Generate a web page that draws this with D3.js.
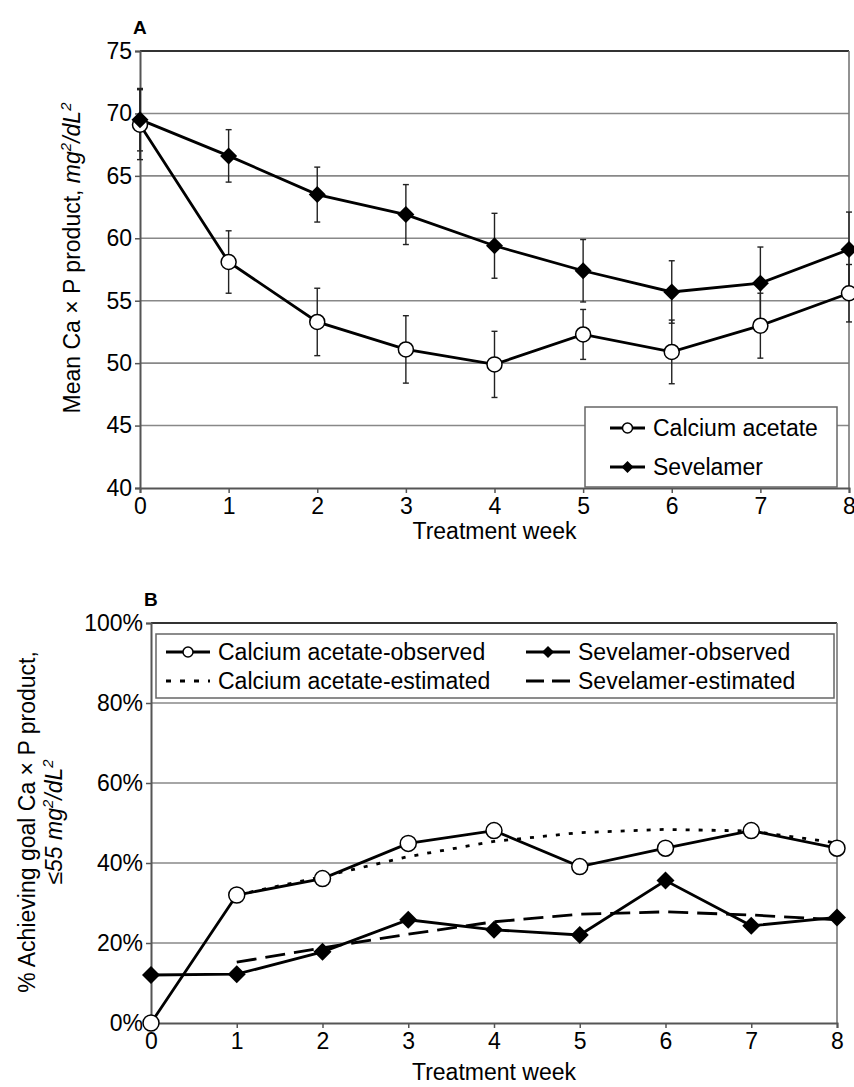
<!DOCTYPE html>
<html>
<head>
<meta charset="utf-8">
<script src="https://cdn.jsdelivr.net/npm/d3@7"></script>
<style>
  body { margin: 0; background: #fff; }
  svg text { font-family: "Liberation Sans", Arial, sans-serif; fill: #000; }
</style>
</head>
<body>
<script>
// weeks on the x axis
var weeks = [0, 1, 2, 3, 4, 5, 6, 7, 8];

// panel A: mean Ca x P product and error half-widths
var calciumMean = [69.1, 58.1, 53.3, 51.1, 49.9, 52.3, 50.9, 53.0, 55.6];
var calciumErr  = [2.8, 2.5, 2.7, 2.7, 2.65, 2.0, 2.55, 2.6, 2.3];
var sevelamerMean = [69.5, 66.6, 63.5, 61.9, 59.4, 57.4, 55.7, 56.4, 59.1];
var sevelamerErr  = [2.5, 2.1, 2.2, 2.4, 2.6, 2.5, 2.5, 2.9, 3.0];
var ticksA = [40, 45, 50, 55, 60, 65, 70, 75];

// panel B: % achieving goal
var calciumObs   = [0, 32.0, 36.1, 44.9, 48.1, 39.1, 43.7, 48.1, 43.7];
var sevelamerObs = [12.0, 12.2, 17.8, 25.8, 23.3, 22.0, 35.6, 24.3, 26.4];
var estWeeks     = [1, 2, 3, 4, 5, 6, 7, 8];
var calciumEst   = [32.0, 36.6, 41.6, 45.4, 47.6, 48.4, 48.0, 45.0];
var sevelamerEst = [15.2, 18.8, 22.2, 25.3, 27.2, 27.8, 27.0, 25.8];
var ticksB = [0, 20, 40, 60, 80, 100];

var width = 854, height = 1087;

var svg = d3.select("body").append("svg")
    .attr("width", width)
    .attr("height", height);

var fontSize = 23;

function diamond(g, x, y, r){
    g.append("path")
        .attr("d", "M" + x + "," + (y - r) + "L" + (x + r) + "," + y + "L" + x + "," + (y + r) + "L" + (x - r) + "," + y + "Z")
        .attr("fill", "#000");
}
function circle(g, x, y, r){
    g.append("circle")
        .attr("cx", x).attr("cy", y).attr("r", r)
        .attr("fill", "#fff")
        .attr("stroke", "#000")
        .attr("stroke-width", 1.5);
}
// italic "mg2/dL2" with raised 2s
function units(t){
    t.append("tspan").style("font-style", "italic").text("mg");
    t.append("tspan").style("font-style", "italic").style("font-size", "15px").attr("dy", -9).text("2");
    t.append("tspan").style("font-style", "italic").attr("dy", 9).text("/dL");
    t.append("tspan").style("font-style", "italic").style("font-size", "15px").attr("dy", -9).text("2");
}

// draws frame, grid and axes for one panel
function frame(x, y, ticks, fmt, label, titleGap){
    var g = svg.append("g");
    // horizontal grid
    g.selectAll(".grid").data(ticks.slice(1))
        .enter().append("line")
        .attr("x1", x.range()[0]).attr("x2", x.range()[1])
        .attr("y1", function(d){ return y(d); })
        .attr("y2", function(d){ return y(d); })
        .attr("stroke", function(d, i){ return i == ticks.length - 2 ? "#333" : "#888"; })
        .attr("stroke-width", function(d, i){ return i == ticks.length - 2 ? 2 : 1.6; });
    // right border
    g.append("line")
        .attr("x1", x.range()[1]).attr("x2", x.range()[1])
        .attr("y1", y.range()[0]).attr("y2", y.range()[1])
        .attr("stroke", "#777").attr("stroke-width", 1.6);

    var yAxis = d3.axisLeft(y).tickValues(ticks).tickFormat(fmt).tickSize(5).tickPadding(3);
    var ya = g.append("g").attr("transform", "translate(" + x.range()[0] + ",0)").call(yAxis);
    var xAxis = d3.axisBottom(x).tickValues(weeks).tickSize(5).tickPadding(5);
    var xa = g.append("g").attr("transform", "translate(0," + y.range()[0] + ")").call(xAxis);
    [ya, xa].forEach(function(a){
        a.select(".domain").attr("stroke", "#555").attr("stroke-width", 2);
        a.selectAll(".tick line").attr("stroke", "#555").attr("stroke-width", 1.5);
        a.selectAll(".tick text")
            .style("font-family", "Liberation Sans, Arial, sans-serif")
            .style("font-size", fontSize + "px")
            .attr("fill", "#000");
    });
    // panel letter
    g.append("text")
        .attr("x", x.range()[0] - 7).attr("y", y.range()[1] - 17)
        .style("font-size", "19px").style("font-weight", "bold")
        .text(label);
    // x title
    g.append("text")
        .attr("x", (x.range()[0] + x.range()[1]) / 2)
        .attr("y", y.range()[0] + titleGap)
        .attr("text-anchor", "middle")
        .style("font-size", fontSize + "px")
        .text("Treatment week");
    return g;
}

// ---------------- panel A ----------------
var xA = d3.scaleLinear().domain([0, 8]).range([140, 849]);
var yA = d3.scaleLinear().domain([40, 75]).range([488, 51]);
frame(xA, yA, ticksA, d3.format("d"), "A", 51);

var titleA = svg.append("text")
    .attr("transform", "translate(80,258) rotate(-90)")
    .attr("text-anchor", "middle")
    .style("font-size", fontSize + "px");
titleA.append("tspan").text("Mean Ca \u00d7 P product, ");
units(titleA);

var lineA = d3.line().x(function(d){ return xA(d[0]); }).y(function(d){ return yA(d[1]); });
var gA = svg.append("g");

function errorBars(g, means, errs){
    weeks.forEach(function(w, i){
        var x = xA(w), y1 = yA(means[i] + errs[i]), y2 = yA(means[i] - errs[i]);
        g.append("line").attr("x1", x).attr("x2", x).attr("y1", y1).attr("y2", y2)
            .attr("stroke", "#222").attr("stroke-width", 1.4);
        [y1, y2].forEach(function(yy){
            g.append("line").attr("x1", x - 3).attr("x2", x + 3).attr("y1", yy).attr("y2", yy)
                .attr("stroke", "#222").attr("stroke-width", 1.4);
        });
    });
}
errorBars(gA, calciumMean, calciumErr);
errorBars(gA, sevelamerMean, sevelamerErr);

gA.append("path").datum(d3.zip(weeks, calciumMean)).attr("d", lineA)
    .attr("fill", "none").attr("stroke", "#000").attr("stroke-width", 2.8);
gA.append("path").datum(d3.zip(weeks, sevelamerMean)).attr("d", lineA)
    .attr("fill", "none").attr("stroke", "#000").attr("stroke-width", 2.8);
weeks.forEach(function(w, i){ circle(gA, xA(w), yA(calciumMean[i]), 7.5); });
weeks.forEach(function(w, i){ diamond(gA, xA(w), yA(sevelamerMean[i]), 8.5); });

// legend A
var legA = svg.append("g");
legA.append("rect").attr("x", 585).attr("y", 407).attr("width", 252).attr("height", 80)
    .attr("fill", "#fff").attr("stroke", "#666").attr("stroke-width", 1.5);
[["Calcium acetate", "c"], ["Sevelamer", "s"]].forEach(function(e, i){
    var yy = 428 + i * 39;
    legA.append("line").attr("x1", 610).attr("x2", 645).attr("y1", yy).attr("y2", yy)
        .attr("stroke", "#000").attr("stroke-width", 2.8);
    if (e[1] == "c") circle(legA, 627.5, yy, 5); else diamond(legA, 627.5, yy, 6);
    legA.append("text").attr("x", 653).attr("y", yy + 8).style("font-size", fontSize + "px").text(e[0]);
});

// ---------------- panel B ----------------
var xB = d3.scaleLinear().domain([0, 8]).range([151, 837]);
var yB = d3.scaleLinear().domain([0, 100]).range([1023, 623]);
frame(xB, yB, ticksB, function(d){ return d + "%"; }, "B", 57);

var titleB = svg.append("text")
    .attr("transform", "translate(35,822) rotate(-90)")
    .attr("text-anchor", "middle")
    .style("font-size", fontSize + "px");
titleB.append("tspan").text("% Achieving goal Ca \u00d7 P product,");
var titleB2 = svg.append("text")
    .attr("transform", "translate(62,822) rotate(-90)")
    .attr("text-anchor", "middle")
    .style("font-size", fontSize + "px");
titleB2.append("tspan").text("\u2264");
titleB2.append("tspan").style("font-style", "italic").text("55 ");
units(titleB2);

var lineB = d3.line().x(function(d){ return xB(d[0]); }).y(function(d){ return yB(d[1]); });
var gB = svg.append("g");
gB.append("path").datum(d3.zip(estWeeks, calciumEst)).attr("d", lineB)
    .attr("fill", "none").attr("stroke", "#000").attr("stroke-width", 2.8)
    .attr("stroke-dasharray", "4,9");
gB.append("path").datum(d3.zip(estWeeks, sevelamerEst)).attr("d", lineB)
    .attr("fill", "none").attr("stroke", "#000").attr("stroke-width", 2.8)
    .attr("stroke-dasharray", "20,9");
gB.append("path").datum(d3.zip(weeks, calciumObs)).attr("d", lineB)
    .attr("fill", "none").attr("stroke", "#000").attr("stroke-width", 2.8);
gB.append("path").datum(d3.zip(weeks, sevelamerObs)).attr("d", lineB)
    .attr("fill", "none").attr("stroke", "#000").attr("stroke-width", 2.8);
weeks.forEach(function(w, i){ circle(gB, xB(w), yB(calciumObs[i]), 8); });
weeks.forEach(function(w, i){ diamond(gB, xB(w), yB(sevelamerObs[i]), 9); });

// legend B
var legB = svg.append("g");
legB.append("rect").attr("x", 156).attr("y", 634).attr("width", 678).attr("height", 64)
    .attr("fill", "#fff").attr("stroke", "#666").attr("stroke-width", 1.5);
var legItems = [
    {name: "Calcium acetate-observed", x: 166, y: 652, kind: "c"},
    {name: "Sevelamer-observed", x: 526, y: 652, kind: "s"},
    {name: "Calcium acetate-estimated", x: 166, y: 681, kind: "cd"},
    {name: "Sevelamer-estimated", x: 526, y: 681, kind: "sd"}
];
legItems.forEach(function(e){
    var l = legB.append("line").attr("x1", e.x).attr("x2", e.x + 44).attr("y1", e.y).attr("y2", e.y)
        .attr("stroke", "#000").attr("stroke-width", 2.8);
    if (e.kind == "cd") l.attr("stroke-dasharray", "5,9");
    if (e.kind == "sd") l.attr("stroke-dasharray", "18,8");
    if (e.kind == "c") circle(legB, e.x + 22, e.y, 5);
    if (e.kind == "s") diamond(legB, e.x + 22, e.y, 6);
    legB.append("text").attr("x", e.x + 52).attr("y", e.y + 8).style("font-size", fontSize + "px").text(e.name);
});
</script>
</body>
</html>
